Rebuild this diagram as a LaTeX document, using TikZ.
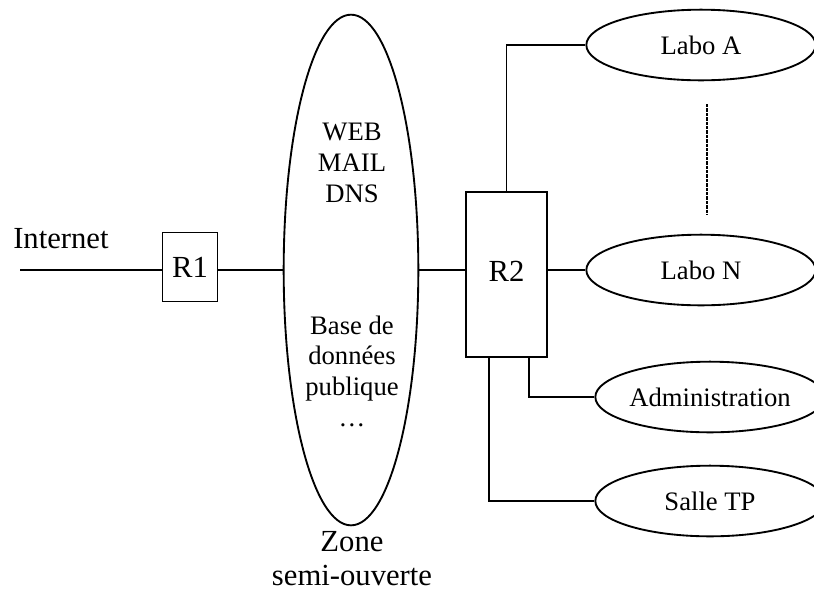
\documentclass[tikz,border=0pt]{standalone}
\usepackage{fontspec}
\setmainfont{Liberation Serif}
\usepackage{tikz}
\usetikzlibrary{shapes.geometric}

\tikzset{
  router/.style={draw, line width=1.4pt, inner sep=0pt, font=\fontsize{23}{26}\selectfont},
  site/.style={draw, ellipse, line width=1.4pt, inner sep=0pt, minimum width=172pt, minimum height=53pt, font=\fontsize{20}{23}\selectfont},
  txt/.style={inner sep=0pt, align=center, font=\fontsize{20}{23}\selectfont},
  big/.style={inner sep=0pt, align=center, font=\fontsize{23}{25.5}\selectfont},
  wire/.style={line width=1.4pt}
}

\begin{document}
\begin{tikzpicture}[x=0.75pt, y=-0.75pt]
\useasboundingbox (0,0) rectangle (814,594);

\node[big, anchor=base west] (internet) at (13,248) {Internet};
\coordinate (inet) at (20,270);
\node[router, minimum width=41.25pt, minimum height=51.75pt] (R1) at (190,267) {R1};
\node[draw, ellipse, line width=1.4pt, minimum width=101pt, minimum height=383pt, inner sep=0pt] (zone) at (351,270) {};
\node[txt] (services) at (352,163) {WEB\\MAIL\\DNS};
\node[txt] (base) at (352,371) {Base de\\données\\publique\\\dots};
\node[big, anchor=north] (zonelabel) at (352,531) {Zone\\semi-ouverte};
\node[router, minimum width=60.75pt, minimum height=123.75pt] (R2) at (506.5,274.5) {};
\node[big] (R2label) at (506.5,271) {R2};

\node[site] (labA) at (701,45) {Labo A};
\node[site] (labN) at (701,270) {Labo N};
\node[site] (admin) at (710,397) {Administration};
\node[site] (salle) at (710,501) {Salle TP};

\draw[wire] (inet) -- (inet -| R1.west);
\draw[wire] (R1.east |- zone.west) -- (zone.west);
\draw[wire] (zone.east) -- (zone.east -| R2.west);
\draw[wire] (R2.north) |- (labA.west);
\draw[wire] (labN.west -| R2.east) -- (labN.west);
\draw[wire] ([xshift=48pt]R2.south west) |- (admin.west);
\draw[wire] ([xshift=18pt]R2.south west) |- (salle.west);

\draw[line width=2pt, dash pattern=on 2.5pt off 0.8pt] (707,104) -- (707,215);
\end{tikzpicture}
\end{document}
